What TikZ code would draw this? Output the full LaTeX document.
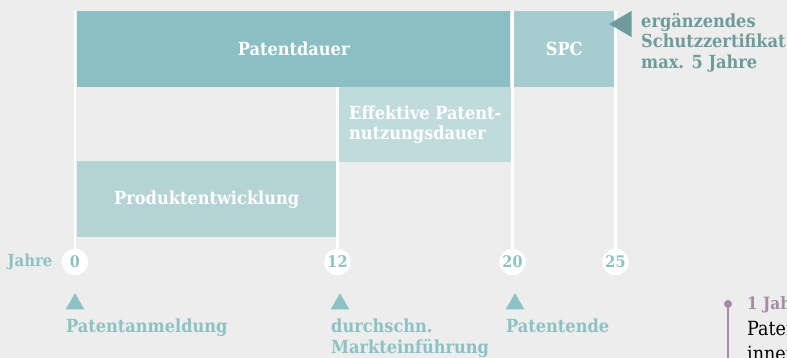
\documentclass[tikz,border=0pt]{standalone}
\usepackage{fontspec}
\setmainfont{DejaVu Serif Condensed}
\usetikzlibrary{positioning,shapes.geometric}
\definecolor{bg}{HTML}{EDEDED}
\definecolor{dauer}{HTML}{8BBFC3}
\definecolor{spc}{HTML}{A6CCCF}
\definecolor{nutzung}{HTML}{C0DBDC}
\definecolor{entw}{HTML}{B3D3D5}
\definecolor{label}{HTML}{8CC2C5}
\definecolor{dark}{HTML}{6E9C9C}
\definecolor{lila}{HTML}{A68AA6}
\tikzstyle{bar} = [fill, inner sep=0pt, anchor=north west, text=white, font=\bfseries\fontsize{18}{20.5}\selectfont]
\tikzstyle{year} = [circle, fill=white, minimum size=26.5pt, inner sep=0pt, text=label, font=\bfseries\fontsize{16}{16}\selectfont]
\tikzstyle{tick} = [draw=white, line width=2.2pt]
\tikzstyle{pin} = [regular polygon, regular polygon sides=3, fill=label, minimum size=21.5pt, inner sep=0pt]
\tikzstyle{event} = [anchor=north west, inner sep=0pt, align=left, text=label, font=\bfseries\fontsize{18}{20.5}\selectfont]

\begin{document}
\begin{tikzpicture}[x=1pt,y=-1pt]
    \useasboundingbox[fill=bg] (0,0) rectangle (787,358);
    \clip (0,0) rectangle (787,358);

    \coordinate (t0) at (75,11);
    \coordinate (t12) at (337.5,11);
    \coordinate (t20) at (512.5,11);
    \coordinate (t25) at (615.5,11);
    \node[year] (y0) at (75,262) {0};
    \node[year] (y12) at (337.5,262) {12};
    \node[year] (y20) at (512.5,262) {20};
    \node[year] (y25) at (615.5,262) {25};
    \draw[tick] (t0) -- (y0);
    \draw[tick] (t12) -- (y12);
    \draw[tick] (t20) -- (y20);
    \draw[tick] (t25) -- (y25);
    \node[text=label, font=\bfseries\fontsize{16.5}{20}\selectfont, inner sep=0pt, left=9pt of y0] (jahre) {Jahre};

    \node[bar, fill=dauer, minimum width=433pt, minimum height=76pt] (dauer) at (77,11) {Patentdauer};
    \node[bar, fill=spc, minimum width=100pt, minimum height=76pt] (spc) at (514,11) {SPC};
    \node[bar, fill=nutzung, minimum width=172pt, minimum height=75pt] (nutz) at (339,87) {};
    \node[event, text=white, right=10pt of nutz.west] {Effektive Patent-\\nutzungsdauer};
    \node[bar, fill=entw, minimum width=259pt, minimum height=76pt] (entw) at (77,161) {Produktentwicklung};

    \node[regular polygon, regular polygon sides=3, shape border rotate=90, fill=dark, minimum size=30pt, inner sep=0pt] (zeiger) at (624,24) {};
    \node[event, text=dark] (zert) at (641,13) {ergänzendes\\Schutzzertifikat\\max. 5 Jahre};

    \node[pin] (p0) at (75,304) {};
    \node[pin] (p12) at (340,304) {};
    \node[pin] (p20) at (515,304) {};
    \node[event] (anm) at (66,319) {Patentanmeldung};
    \node[event] (markt) at (331,319) {durchschn.\\Markteinführung};
    \node[event] (ende) at (506,319) {Patentende};

    \node[circle, fill=lila, minimum size=8pt, inner sep=0pt] (dot) at (728,304) {};
    \coordinate (dotend) at (728,370);
    \draw[lila, line width=2.2pt] (dot) -- (dotend);
    \node[anchor=base west, inner sep=0pt, text=lila, font=\bfseries\fontsize{17}{19}\selectfont] (jahr1) at (747,309) {1 Jahr};
    \node[anchor=base west, inner sep=0pt, font=\fontsize{19.5}{20}\selectfont] (txt1) at (747,335) {Patentanmeldung};
    \node[anchor=base west, inner sep=0pt, font=\fontsize{19.5}{20}\selectfont] (txt2) at (747,360) {innerhalb};
\end{tikzpicture}
\end{document}
